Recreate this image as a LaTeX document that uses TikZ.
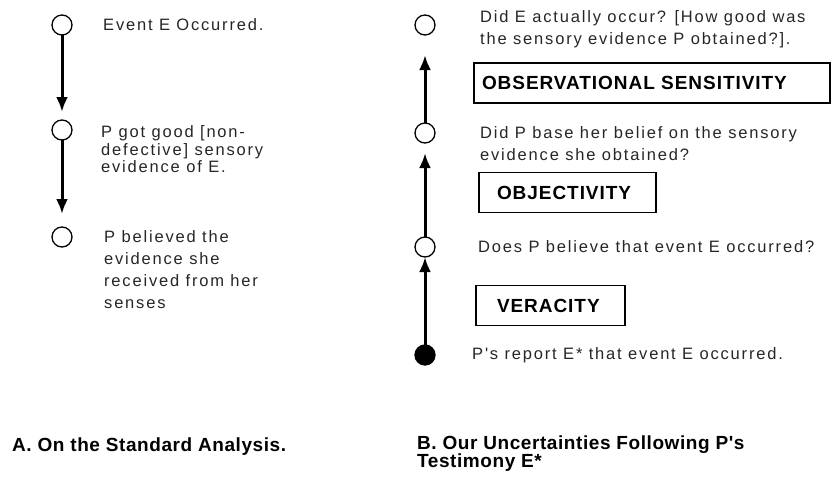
\documentclass[tikz,border=0pt]{standalone}
\usepackage{fontspec}
\setmainfont{Liberation Sans}
\newfontfamily\bodyfont{Liberation Sans}[LetterSpace=11]
\newfontfamily\capfont{Liberation Sans}[LetterSpace=3]
\newfontfamily\boxfont{Liberation Sans}[LetterSpace=5]
\usetikzlibrary{positioning, arrows.meta}

\begin{document}
\begin{tikzpicture}[x=1pt, y=-1pt,
    dot/.style = {circle, draw, line width=1.3pt, minimum size=#1,
                  inner sep=0pt, outer sep=0pt},
    dot/.default = 20pt
    ]
            % styles
            \tikzstyle{arrow} = [line width=3pt,-{Latex[length=15pt,width=12pt]}]
            \tikzstyle{txt} = [font=\bodyfont\fontsize{16.5}{22}\selectfont, text=black!85, align=left, inner sep=0pt, anchor=west]
            \tikzstyle{box} = [draw, line width=1.3pt, minimum height=40pt, align=left, font=\boxfont\bfseries\fontsize{19}{20}\selectfont]
            \tikzstyle{caption} = [font=\capfont\bfseries\fontsize{19}{18}\selectfont, align=left, inner sep=0pt, anchor=west]

            \useasboundingbox (0,0) rectangle (832,477);

            % A: standard analysis
            \node (stdE) [dot] at (62,25) {};
            \node (stdP) [dot] at (62,130) {};
            \node (stdB) [dot] at (62,237) {};

            \node (stdEtxt) [txt, right=31pt of stdE] {Event E Occurred.};
            \node (stdPtxt) [txt, font=\bodyfont\fontsize{16.5}{17.5}\selectfont] at (101,149.5) {P got good [non-\\defective] sensory\\evidence of E.};
            \node (stdBtxt) [txt] at (104,270) {P believed the\\evidence she\\received from her\\senses};

            \draw [arrow, shorten >=8pt] (stdE) -- (stdP);
            \draw [arrow, shorten >=13pt] (stdP) -- (stdB);

            % B: uncertainties
            \node (unE) [dot] at (425,25) {};
            \node (unP) [dot] at (425,133) {};
            \node (unB) [dot] at (425,247) {};
            \node (unR) [dot, fill=black] at (425,355) {};

            \node (unEtxt) [txt] at (480,29) {Did E actually occur? [How good was\\the sensory evidence P obtained?].};
            \node (unPtxt) [txt] at (480,143.5) {Did P base her belief on the sensory\\evidence she obtained?};
            \node (unBtxt) [txt, right=43pt of unB] {Does P believe that event E occurred?};
            \node (unRtxt) [txt, right=37pt of unR] {P's report E* that event E occurred.};

            \node (obsBox) [box, text width=340pt, inner xsep=8pt] at (652,83) {OBSERVATIONAL SENSITIVITY};
            \node (objBox) [box, text width=141pt, inner xsep=18pt] at (567.5,192.5) {OBJECTIVITY};
            \node (verBox) [box, text width=107pt, inner xsep=21pt] at (550.5,305.5) {VERACITY};

            \draw [arrow] (unR) -- (unB);
            \draw [arrow, shorten >=10pt] (unB) -- (unP);
            \draw [arrow, shorten >=20pt] (unP) -- (unE);

            % captions
            \node (capA) [caption] at (12,447) {A. On the Standard Analysis.};
            \node (capB) [caption] at (417,454) {B. Our Uncertainties Following P's\\Testimony E*};
    \end{tikzpicture}
\end{document}
